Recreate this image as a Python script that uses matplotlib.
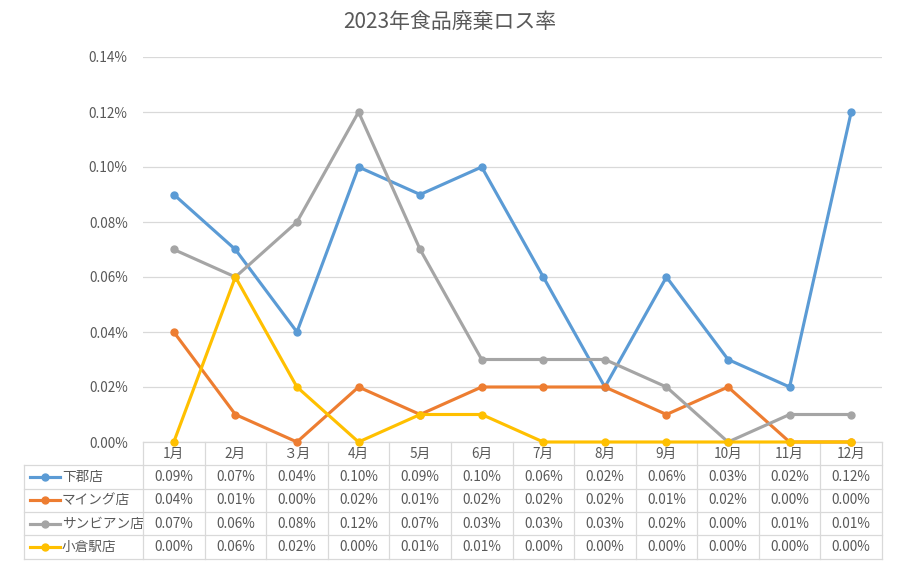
import matplotlib
matplotlib.use('Agg')
import matplotlib.pyplot as plt
from matplotlib.lines import Line2D
from matplotlib.transforms import blended_transform_factory

plt.rcParams['font.family'] = ['Noto Sans CJK JP', 'DejaVu Sans']

months = ['1月', '2月', '３月', '4月', '5月', '6月', '7月', '8月', '9月', '10月', '11月', '12月']
stores = ['下郡店', 'マイング店', 'サンビアン店', '小倉駅店']
# values in percent
shimogori = [0.09, 0.07, 0.04, 0.10, 0.09, 0.10, 0.06, 0.02, 0.06, 0.03, 0.02, 0.12]
maingu = [0.04, 0.01, 0.00, 0.02, 0.01, 0.02, 0.02, 0.02, 0.01, 0.02, 0.00, 0.00]
sunbian = [0.07, 0.06, 0.08, 0.12, 0.07, 0.03, 0.03, 0.03, 0.02, 0.00, 0.01, 0.01]
kokura = [0.00, 0.06, 0.02, 0.00, 0.01, 0.01, 0.00, 0.00, 0.00, 0.00, 0.00, 0.00]
series = [shimogori, maingu, sunbian, kokura]
colors = ['#5B9BD5', '#ED7D31', '#A5A5A5', '#FFC000']
yticks = [0.00, 0.02, 0.04, 0.06, 0.08, 0.10, 0.12, 0.14]

text_color = '#595959'
grid_color = '#D9D9D9'
fs = 9.8

fig = plt.figure(figsize=(9, 5.64), dpi=100)
W, H = 900, 564
# plot area in pixels: x 143..882, y 57..442
ax = fig.add_axes([143 / W, 1 - 442 / H, 739 / W, 385 / H])

x = list(range(len(months)))
for vals, c in zip(series, colors):
    ax.plot(x, vals, color=c, lw=2.25, marker='o', ms=5, clip_on=False, zorder=3)

ax.set_xlim(-0.5, len(months) - 0.5)
ax.set_ylim(0, 0.14)
ax.set_yticks(yticks)
ax.set_yticklabels([f'{v:.2f}%' for v in yticks])
ax.tick_params(axis='y', length=0, pad=11, labelsize=fs, labelcolor=text_color)
ax.set_xticks([])
ax.grid(axis='y', color=grid_color, lw=0.9)
ax.set_axisbelow(True)
for s in ax.spines.values():
    s.set_visible(False)

fig.text(0.5, 1 - 22 / H, '2023年食品廃棄ロス率', ha='center', va='center',
         fontsize=15, color=text_color)

# data table below the plot
tr = blended_transform_factory(ax.transData, ax.transAxes)
rh = 23.3 / 385
x_left = -(143 - 24) / 739  # axes fraction of table left edge
ax_tr = ax.transAxes
lkw = dict(color=grid_color, lw=0.9, clip_on=False)

# header row borders (month columns only)
ax.add_line(Line2D([-0.5, len(months) - 0.5], [0, 0], transform=tr, **lkw))
for i in range(len(months) + 1):
    ax.add_line(Line2D([i - 0.5, i - 0.5], [0, -rh * 5], transform=tr, **lkw))
# horizontal lines for data rows incl. label column
for r in range(1, 6):
    ax.add_line(Line2D([x_left, 1], [-rh * r, -rh * r], transform=ax_tr, **lkw))
ax.add_line(Line2D([x_left, x_left], [-rh, -rh * 5], transform=ax_tr, **lkw))

for i, m in enumerate(months):
    ax.text(i, -rh * 0.5, m, transform=tr, ha='center', va='center',
            fontsize=fs, color=text_color)

for r, (name, vals, c) in enumerate(zip(stores, series, colors)):
    yc = -rh * (r + 1.5)
    kx0 = x_left + 6 / 739
    kx1 = x_left + 36 / 739
    ax.add_line(Line2D([kx0, kx1], [yc, yc], transform=ax_tr, color=c, lw=2.25, clip_on=False))
    ax.add_line(Line2D([(kx0 + kx1) / 2], [yc], transform=ax_tr, color=c, marker='o', ms=5,
                       clip_on=False))
    ax.text(x_left + 38 / 739, yc, name, transform=ax_tr, ha='left', va='center',
            fontsize=fs, color=text_color)
    for i, v in enumerate(vals):
        ax.text(i, yc, f'{v:.2f}%', transform=tr, ha='center', va='center',
                fontsize=fs, color=text_color)

fig.savefig('out.png', dpi=100)
